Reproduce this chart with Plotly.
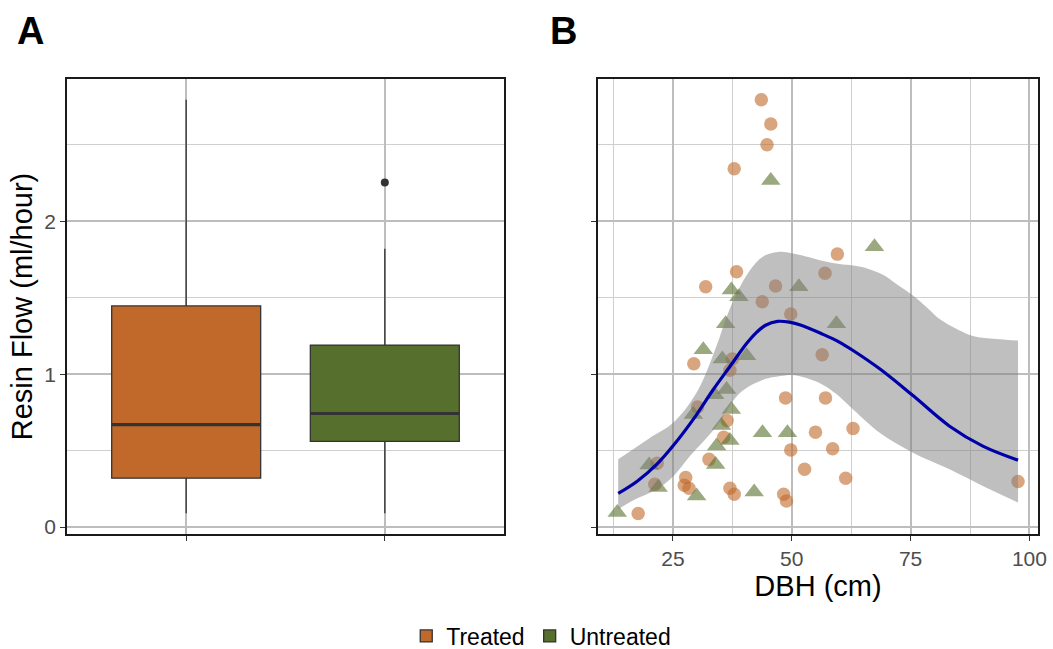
import plotly.graph_objects as go

# ---------------- data ----------------
groups = ["Treated", "Untreated"]
box_q1 = [0.32, 0.56]
box_median = [0.67, 0.743]
box_q3 = [1.446, 1.19]
box_lower = [0.09, 0.09]
box_upper = [2.795, 1.82]
outlier_group = ["Untreated"]
outlier_y = [2.254]

treated_dbh = [43.6, 45.6, 44.8, 37.9, 59.6, 38.4, 31.9, 57.0, 46.6, 43.8,
               49.8, 56.4, 29.4, 37.5, 37.0, 48.7, 57.1, 30.2, 36.4, 55.0,
               35.7, 49.8, 58.6, 32.6, 21.7, 52.7, 27.7, 27.4, 28.4, 21.2,
               37.0, 37.9, 48.3, 48.9, 17.7, 62.9, 61.35, 97.6]
treated_flow = [2.795, 2.636, 2.50, 2.343, 1.785, 1.67, 1.572, 1.66, 1.577, 1.474,
                1.394, 1.127, 1.068, 1.10, 1.025, 0.845, 0.845, 0.786, 0.697, 0.621,
                0.588, 0.504, 0.513, 0.443, 0.417, 0.378, 0.324, 0.274, 0.254, 0.28,
                0.254, 0.215, 0.215, 0.171, 0.089, 0.645, 0.319, 0.298]

untreated_dbh = [45.6, 37.3, 38.9, 51.5, 36.1, 59.4, 31.4, 35.4, 40.5, 36.3,
                 33.8, 29.3, 37.3, 35.2, 43.85, 49.1, 37.0, 34.2, 20.0, 34.0,
                 21.9, 30.0, 42.1, 13.3, 67.4]
untreated_flow = [2.267, 1.55, 1.507, 1.572, 1.33, 1.33, 1.16, 1.10, 1.12, 0.90,
                  0.866, 0.736, 0.769, 0.664, 0.617, 0.617, 0.567, 0.53, 0.406, 0.41,
                  0.259, 0.204, 0.23, 0.096, 1.833]

fit_dbh = [13.5, 17.5, 21.6, 25, 30, 33.5, 37, 40.5, 42.5, 44.5, 47, 49.5, 52,
           56.6, 60, 62.9, 68.5, 75.5, 83.2, 90.2, 97.6]
fit_flow = [0.22, 0.30, 0.41, 0.53, 0.736, 0.90, 1.05, 1.20, 1.27, 1.32, 1.345,
            1.34, 1.32, 1.26, 1.21, 1.155, 1.035, 0.86, 0.66, 0.53, 0.438]

upper_dbh = [13.5, 20, 25, 30, 34, 37, 41, 44, 47.5, 50, 53, 56.6, 60, 62.9,
             66, 69.2, 72, 75.5, 79, 81.1, 85, 88.1, 93, 97.6]
upper_flow = [0.443, 0.58, 0.68, 0.88, 1.17, 1.43, 1.67, 1.77, 1.80, 1.79, 1.77,
              1.74, 1.72, 1.71, 1.69, 1.65, 1.59, 1.515, 1.42, 1.36, 1.29,
              1.25, 1.23, 1.22]

lower_dbh = [13.5, 17, 21.6, 25, 28.6, 34.2, 39.1, 44, 48.2, 50, 53.1, 56.6,
             59.4, 62.2, 68.5, 75.5, 83.2, 90.2, 97.6]
lower_flow = [0.117, 0.18, 0.248, 0.33, 0.465, 0.66, 0.877, 0.964, 0.99, 0.995,
              0.975, 0.93, 0.87, 0.79, 0.617, 0.487, 0.378, 0.269, 0.161]

# ---------------- style ----------------
FONT = "Liberation Sans, Arial, sans-serif"
box_fill = {"Treated": "#C0692A", "Untreated": "#566F2C"}
pt_color = {"Treated": "rgba(192,105,42,0.6)", "Untreated": "rgba(86,111,44,0.6)"}
pos = {g: i + 1 for i, g in enumerate(groups)}
half_w = 0.375
EDGE = "#333333"
MAJ = "#BDBDBD"
MIN = "#CFCFCF"

fig = go.Figure()

# Panel A boxes
for i, g in enumerate(groups):
    fig.add_trace(go.Box(
        x=[pos[g]], q1=[box_q1[i]], median=[box_median[i]], q3=[box_q3[i]],
        lowerfence=[box_lower[i]], upperfence=[box_upper[i]],
        width=2 * half_w, whiskerwidth=0, boxpoints=False,
        fillcolor=box_fill[g], line=dict(color=EDGE, width=1.3),
        name=g, showlegend=True, xaxis="x", yaxis="y", hoverinfo="skip"))
    fig.add_trace(go.Scatter(
        x=[pos[g] - half_w, pos[g] + half_w], y=[box_median[i], box_median[i]],
        mode="lines", line=dict(color=EDGE, width=3.2), showlegend=False,
        xaxis="x", yaxis="y", hoverinfo="skip"))

fig.add_trace(go.Scatter(
    x=[pos[g] for g in outlier_group], y=outlier_y, mode="markers",
    marker=dict(color=EDGE, size=8), showlegend=False, xaxis="x", yaxis="y"))

# Panel B points
fig.add_trace(go.Scatter(
    x=treated_dbh, y=treated_flow, mode="markers",
    marker=dict(symbol="circle", size=13.5, color=pt_color["Treated"], line=dict(width=0)),
    showlegend=False, xaxis="x2", yaxis="y2"))
fig.add_trace(go.Scatter(
    x=untreated_dbh, y=untreated_flow, mode="markers",
    marker=dict(symbol="triangle-up", size=17, color=pt_color["Untreated"], line=dict(width=0)),
    showlegend=False, xaxis="x2", yaxis="y2"))

# Confidence band (lower edge, then upper edge filled to it)
fig.add_trace(go.Scatter(
    x=lower_dbh, y=lower_flow, mode="lines",
    line=dict(width=0, shape="spline", smoothing=1.0), showlegend=False,
    xaxis="x2", yaxis="y2", hoverinfo="skip"))
fig.add_trace(go.Scatter(
    x=upper_dbh, y=upper_flow, mode="lines", fill="tonexty",
    fillcolor="rgba(128,128,128,0.5)",
    line=dict(width=0, shape="spline", smoothing=1.0), showlegend=False,
    xaxis="x2", yaxis="y2", hoverinfo="skip"))
# Smooth fit
fig.add_trace(go.Scatter(
    x=fit_dbh, y=fit_flow, mode="lines",
    line=dict(color="#0000A8", width=3.2, shape="spline", smoothing=1.0),
    showlegend=False, xaxis="x2", yaxis="y2"))

W, H = 1053, 649
ydom = [1 - 534 / H, 1 - 79 / H]
axis_common = dict(showline=True, mirror=True, linecolor="#1A1A1A", linewidth=1.6,
                   ticks="outside", ticklen=5, tickcolor=EDGE, tickwidth=1.2,
                   zeroline=False, gridcolor=MAJ, gridwidth=1.6,
                   tickfont=dict(size=21, color="#4D4D4D", family=FONT))
yrange = [-0.045, 2.93]

fig.update_layout(
    width=W, height=H, margin=dict(l=0, r=0, t=0, b=0, autoexpand=False),
    paper_bgcolor="white", plot_bgcolor="white",
    font=dict(family=FONT, color="black"),
    boxmode="overlay",
    xaxis=dict(domain=[67 / W, 504 / W], range=[0.4, 2.6], tickvals=[1, 2],
               showticklabels=False, showgrid=True, anchor="y", **axis_common),
    yaxis=dict(domain=ydom, range=yrange, tickvals=[0, 1, 2], anchor="x",
               showgrid=True,
               minor=dict(showgrid=True, dtick=0.5, tick0=0, gridcolor=MIN, gridwidth=1.1),
               title=dict(text="Resin Flow (ml/hour)", font=dict(size=29, family=FONT), standoff=3),
               **axis_common),
    xaxis2=dict(domain=[598 / W, 1038 / W], range=[9.25, 101.8], tickvals=[25, 50, 75, 100],
                anchor="y2", showgrid=True,
                minor=dict(showgrid=True, dtick=12.5, tick0=0, gridcolor=MIN, gridwidth=1.1),
                title=dict(text="DBH (cm)", font=dict(size=29, family=FONT), standoff=3),
                **axis_common),
    yaxis2=dict(domain=ydom, range=yrange, tickvals=[0, 1, 2], anchor="x2",
                showticklabels=False, showgrid=True,
                minor=dict(showgrid=True, dtick=0.5, tick0=0, gridcolor=MIN, gridwidth=1.1),
                **axis_common),
    legend=dict(orientation="h", x=0.514, xanchor="center", y=1 - 636 / H, yanchor="middle",
                font=dict(size=23, family=FONT), itemwidth=30, tracegroupgap=0,
                traceorder="normal", bgcolor="rgba(0,0,0,0)"),
    annotations=[
        dict(text="<b>A</b>", x=30 / W, y=1 - 31 / H, xref="paper", yref="paper",
             showarrow=False, font=dict(size=38, family=FONT), xanchor="center", yanchor="middle"),
        dict(text="<b>B</b>", x=563 / W, y=1 - 31 / H, xref="paper", yref="paper",
             showarrow=False, font=dict(size=38, family=FONT), xanchor="center", yanchor="middle"),
    ],
)

fig.write_html("out.html")
